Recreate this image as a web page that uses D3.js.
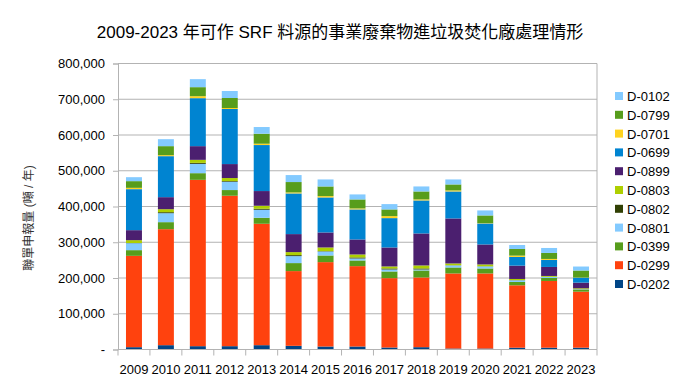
<!DOCTYPE html>
<html><head><meta charset="utf-8">
<script src="https://cdn.jsdelivr.net/npm/d3@7"></script>
<style>body{margin:0;background:#fff;} text{font-family:"Liberation Sans","Noto Sans CJK TC",sans-serif;}</style>
</head><body><svg id="c" width="680" height="382"></svg>
<script>
const years = ["2009","2010","2011","2012","2013","2014","2015","2016","2017","2018","2019","2020","2021","2022","2023"];
const seriesNames = ["D-0202","D-0299","D-0399","D-0801","D-0802","D-0803","D-0899","D-0699","D-0701","D-0799","D-0102"];
const D0202 = [6500,12100,9300,9300,12100,10300,8400,8400,5600,6500,2800,2800,5100,5100,5100];
const D0299 = [255500,324500,465300,420800,339600,209000,236000,224800,194000,195000,209900,209900,174500,186600,156700];
const D0399 = [15900,19600,18600,15900,16800,22400,18600,15900,18700,19600,16800,14000,9300,8400,5600];
const D0801 = [19500,25100,26100,23300,22400,19500,11200,5600,5600,2800,5600,5600,4700,2800,1000];
const D0802 = [500,2800,2800,1900,2800,2800,1000,2800,2800,2800,500,500,500,500,500];
const D0803 = [7900,8400,8400,8400,8400,8400,10200,8300,5600,8400,5100,5100,3200,2300,2300];
const D0899 = [28000,33600,38300,39100,41100,50400,42000,42000,53100,89500,125900,55900,37300,25200,15800];
const D0699 = [114700,114700,134200,154000,128700,113800,98000,84000,82100,92400,75500,58800,24300,19600,13800];
const D0701 = [3700,2800,5600,2800,3700,2800,3700,2800,5600,2800,2900,1000,3700,2800,500];
const D0799 = [18700,25200,25200,28000,28000,29000,27000,25200,18700,22300,16700,21400,18600,16800,19600];
const D0102 = [11100,19500,22400,19600,18700,19500,19600,14000,14900,14000,14000,14000,11200,13900,11200];
const yTicks = [0,100000,200000,300000,400000,500000,600000,700000,800000];
const colors = ["#004586","#ff420e","#579d1c","#83caff","#314004","#aecf00","#4b1f6f","#0084d1","#ffd320","#579d1c","#83caff"];

const arrs = [D0202,D0299,D0399,D0801,D0802,D0803,D0899,D0699,D0701,D0799,D0102];
const rows = years.map((y,i)=>{const r={year:y}; seriesNames.forEach((s,j)=>r[s]=arrs[j][i]); return r;});

const svg = d3.select("#c");
const L=118, R=597, T=63.5, B=349.5;
const x = d3.scaleBand().domain(years).range([L,R]).paddingInner(0.5).paddingOuter(0.25);
const y = d3.scaleLinear().domain([0,800000]).range([B,T]);

// gridlines
svg.append("g").selectAll("line").data(yTicks.slice(1)).join("line")
  .attr("x1",L).attr("x2",R).attr("y1",d=>y(d)).attr("y2",d=>y(d))
  .attr("stroke","#b3b3b3").attr("stroke-width",1);

const stack = d3.stack().keys(seriesNames)(rows);
svg.append("g").selectAll("g").data(stack).join("g").attr("fill",(d,i)=>colors[i])
  .selectAll("rect").data(d=>d).join("rect")
  .attr("x",d=>x(d.data.year)).attr("width",x.bandwidth())
  .attr("y",d=>y(d[1])).attr("height",d=>y(d[0])-y(d[1]));

// y axis
const yAxis = d3.axisLeft(y).tickValues(yTicks).tickSize(5).tickPadding(8)
  .tickFormat(d=>d===0?"-":d3.format(",")(d));
const ya = svg.append("g").attr("transform",`translate(${L},0)`).call(yAxis);
ya.select(".domain").attr("stroke","#b3b3b3");
ya.selectAll(".tick line").attr("stroke","#b3b3b3");
ya.selectAll("text").attr("font-size",13).attr("fill","#000").attr("font-family","Liberation Sans, sans-serif");

// x axis
const step = x.step();
const xa = svg.append("g").attr("transform",`translate(0,${B})`);
xa.append("line").attr("x1",L).attr("x2",R).attr("y1",0).attr("y2",0).attr("stroke","#b3b3b3");
const bounds = d3.range(years.length+1).map(i=>L+i*step);
xa.selectAll("line.t").data(bounds).join("line").attr("class","t")
  .attr("x1",d=>d).attr("x2",d=>d).attr("y1",0).attr("y2",6).attr("stroke","#b3b3b3");
xa.selectAll("text").data(years).join("text")
  .attr("x",d=>x(d)+x.bandwidth()/2).attr("y",24).attr("text-anchor","middle")
  .attr("font-size",13).attr("fill","#000").text(d=>d);
// right border
svg.append("line").attr("x1",R).attr("x2",R).attr("y1",T).attr("y2",B).attr("stroke","#b3b3b3");

// title
svg.append("text").attr("x",340).attr("y",38).attr("text-anchor","middle")
  .attr("font-size",17).attr("fill","#000").text("2009-2023 年可作 SRF 料源的事業廢棄物進垃圾焚化廠處理情形");

// y label
svg.append("text").attr("transform","translate(33,218) rotate(-90)").attr("text-anchor","middle")
  .attr("font-size",12).attr("fill","#333").text("聯單申報量 (噸 / 年)");

// legend
const leg = seriesNames.slice().reverse();
const legC = colors.slice().reverse();
const lg = svg.append("g").selectAll("g").data(leg).join("g")
  .attr("transform",(d,i)=>`translate(615,${96+i*18.8})`);
lg.append("rect").attr("x",0).attr("y",-4).attr("width",8).attr("height",8).attr("fill",(d,i)=>legC[i]);
lg.append("text").attr("x",12).attr("y",5).attr("font-size",13).attr("fill","#000").text(d=>d);
</script></body></html>
